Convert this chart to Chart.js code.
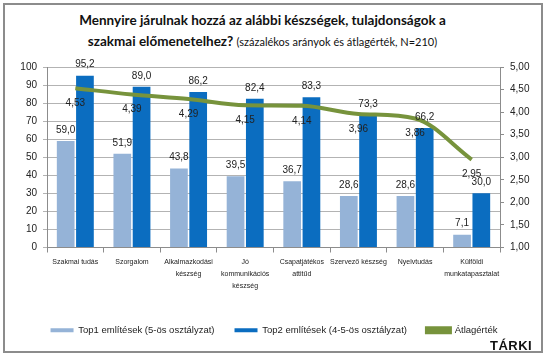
<!DOCTYPE html>
<html>
<head>
<meta charset="utf-8">
<script src="https://cdn.jsdelivr.net/npm/chart.js@4/dist/chart.umd.min.js"></script>
<style>
  html, body { margin: 0; padding: 0; background: #fff; }
  #wrap { position: relative; width: 545px; height: 359px; }
  #frame { position: absolute; left: 3px; top: 3px; width: 536px; height: 346px; border: 2px solid #8c8c8c; box-sizing: content-box; }
  #title { position: absolute; left: 0; top: 10px; width: 525px; text-align: center; font-family: Lato, "Liberation Sans", sans-serif; font-weight: bold; font-size: 13.5px; line-height: 21px; color: #111; }
  #title .sub { font-weight: normal; font-size: 11px; }
  #brand { position: absolute; left: 490px; top: 338px; font-family: "Liberation Sans", sans-serif; font-weight: bold; font-size: 13px; color: #111; letter-spacing: 0.5px; }
  canvas { position: absolute; left: 0; top: 0; }
</style>
</head>
<body>
<div id="wrap">
  <div id="frame"></div>
  <div id="title">Mennyire járulnak hozzá az alábbi készségek, tulajdonságok a<br>szakmai előmenetelhez? <span class="sub">(százalékos arányok és átlagérték, N=210)</span></div>
  <canvas id="chart" width="545" height="359"></canvas>
  <div id="brand">TÁRKI</div>
</div>
<script>
// ============================================
// DATA
// ============================================
const categories = [
    'Szakmai tudás',
    'Szorgalom',
    ['Alkalmazkodási', 'készség'],
    ['Jó', 'kommunikációs', 'készség'],
    ['Csapatjátékos', 'attitűd'],
    'Szervező készség',
    'Nyelvtudás',
    ['Külföldi', 'munkatapasztalat']
];
const top1Values = [59.0, 51.9, 43.8, 39.5, 36.7, 28.6, 28.6, 7.1];
const top2Values = [95.2, 89.0, 86.2, 82.4, 83.3, 73.3, 66.2, 30.0];
const avgValues = [4.53, 4.39, 4.29, 4.15, 4.14, 3.96, 3.86, 2.95];
const seriesNames = ['Top1 említések (5-ös osztályzat)', 'Top2 említések (4-5-ös osztályzat)', 'Átlagérték'];

const fmt = (v, d) => v.toFixed(d).replace('.', ',');

// value labels: bars above, line below
const valueLabels = {
    id: 'valueLabels',
    afterDatasetsDraw(chart) {
        const ctx = chart.ctx;
        ctx.save();
        ctx.font = '10px "Liberation Sans", sans-serif';
        ctx.fillStyle = '#222';
        ctx.textAlign = 'center';
        ctx.textBaseline = 'middle';
        chart.data.datasets.forEach((ds, i) => {
            const meta = chart.getDatasetMeta(i);
            meta.data.forEach((el, j) => {
                if (ds.type === 'line') {
                    ctx.fillText(fmt(ds.data[j], 2), el.x, el.y + 15);
                } else {
                    ctx.fillText(fmt(ds.data[j], 1), el.x, el.y - 11);
                }
            });
        });
        ctx.restore();
    }
};

new Chart(document.getElementById('chart'), {
    type: 'bar',
    data: {
        labels: categories,
        datasets: [
            {
                label: seriesNames[0],
                data: top1Values,
                backgroundColor: '#95B3D7',
                borderColor: '#95B3D7',
                yAxisID: 'y',
                order: 2,
                categoryPercentage: 0.68,
                barPercentage: 0.92
            },
            {
                label: seriesNames[1],
                data: top2Values,
                backgroundColor: '#0B6DC0',
                borderColor: '#0B6DC0',
                yAxisID: 'y',
                order: 2,
                categoryPercentage: 0.68,
                barPercentage: 0.92
            },
            {
                type: 'line',
                label: seriesNames[2],
                data: avgValues,
                borderColor: '#77933C',
                backgroundColor: '#77933C',
                borderWidth: 4,
                pointRadius: 0,
                cubicInterpolationMode: 'monotone',
                yAxisID: 'y2',
                order: 1
            }
        ]
    },
    options: {
        responsive: false,
        animation: false,
        layout: { padding: { left: 3, right: 0, top: 67, bottom: 14 } },
        plugins: {
            legend: {
                position: 'bottom',
                labels: {
                    boxWidth: 23,
                    boxHeight: 4,
                    padding: 20,
                    color: '#222',
                    font: { family: '"Liberation Sans", sans-serif', size: 9.5 },
                    sort: (a, b) => a.datasetIndex - b.datasetIndex
                }
            },
            tooltip: { enabled: false }
        },
        scales: {
            x: {
                grid: { drawOnChartArea: false, tickLength: 5, color: '#8c8c8c' },
                border: { color: '#8c8c8c' },
                ticks: {
                    maxRotation: 0,
                    autoSkip: false,
                    color: '#222',
                    padding: 3,
                    font: { family: '"Liberation Sans Narrow", "Liberation Sans", sans-serif', size: 7, lineHeight: 1.75 }
                },
                afterFit(scale) { scale.height = 58; }
            },
            y: {
                position: 'left',
                min: 0,
                max: 100,
                ticks: {
                    stepSize: 10,
                    color: '#222',
                    padding: 6,
                    font: { family: '"Liberation Sans", sans-serif', size: 10 }
                },
                grid: { color: '#b3b3b3', tickLength: 4 },
                border: { color: '#8c8c8c' },
                afterFit(scale) { scale.width = 44; }
            },
            y2: {
                position: 'right',
                min: 1,
                max: 5,
                ticks: {
                    stepSize: 0.5,
                    color: '#222',
                    padding: 6,
                    font: { family: '"Liberation Sans", sans-serif', size: 10 },
                    callback: v => fmt(v, 2)
                },
                grid: { drawOnChartArea: false, tickLength: 4, color: '#8c8c8c' },
                border: { color: '#8c8c8c' },
                afterFit(scale) { scale.width = 45; }
            }
        }
    },
    plugins: [valueLabels]
});
</script>
</body>
</html>
